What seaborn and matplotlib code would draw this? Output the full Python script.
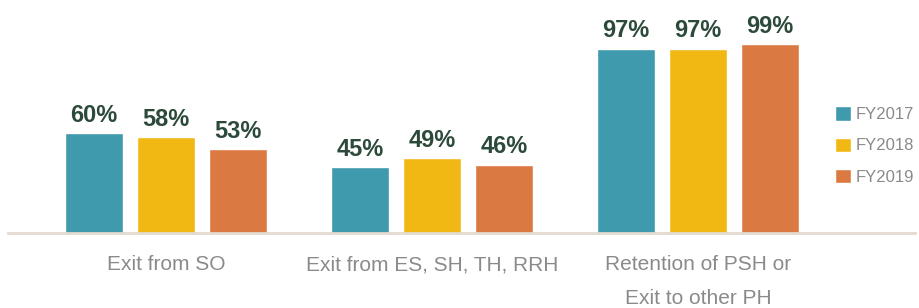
import pandas as pd
import matplotlib.pyplot as plt
import seaborn as sns

# chart data
categories = ['Exit from SO', 'Exit from ES, SH, TH, RRH', 'Retention of PSH or\nExit to other PH']
years = ['FY2017', 'FY2018', 'FY2019']
fy2017 = [60, 45, 97]
fy2018 = [58, 49, 97]
fy2019 = [53, 46, 99]

colors = ['#409AAD', '#F1B712', '#DB7942']
label_color = '#2C4A3A'
tick_color = '#8A8A8A'

df = pd.DataFrame({
    'category': categories * 3,
    'year': [y for y in years for _ in categories],
    'value': fy2017 + fy2018 + fy2019,
})

sns.set_style('white')
plt.rcParams['font.family'] = ['Liberation Sans', 'DejaVu Sans']

fig = plt.figure(figsize=(9.2, 3.08), dpi=100)
ax = fig.add_axes([8 / 920, 75 / 308, 907 / 920, 223 / 308])

sns.barplot(data=df, x='category', y='value', hue='year', palette=colors,
            width=0.812, gap=0.194, saturation=1, ax=ax)

# value labels over bars
for cont in ax.containers:
    ax.bar_label(cont, labels=[f'{v:.0f}%' for v in cont.datavalues],
                 padding=4.5, fontsize=17, fontweight='bold', color=label_color)

ax.set_ylim(16, 114)
ax.set_xlim(-0.594, 2.816)
ax.set_xlabel('')
ax.set_ylabel('')
ax.set_yticks([])
ax.tick_params(axis='x', length=0, pad=16, labelsize=15, labelcolor=tick_color)
for lbl in ax.get_xticklabels():
    lbl.set_linespacing(2.0)

sns.despine(ax=ax, left=True)
ax.spines['bottom'].set_color('#E3DAD0')
ax.spines['bottom'].set_linewidth(2)

handles, labels = ax.get_legend_handles_labels()
ax.legend(handles, labels, loc='center left', bbox_to_anchor=(835 / 920, 0.5276),
          bbox_transform=fig.transFigure, frameon=False, fontsize=12,
          handlelength=0.96, handleheight=0.96, handletextpad=0.3,
          labelspacing=0.92, borderpad=0, borderaxespad=0, labelcolor=tick_color)

plt.savefig('out.png', dpi=100)
